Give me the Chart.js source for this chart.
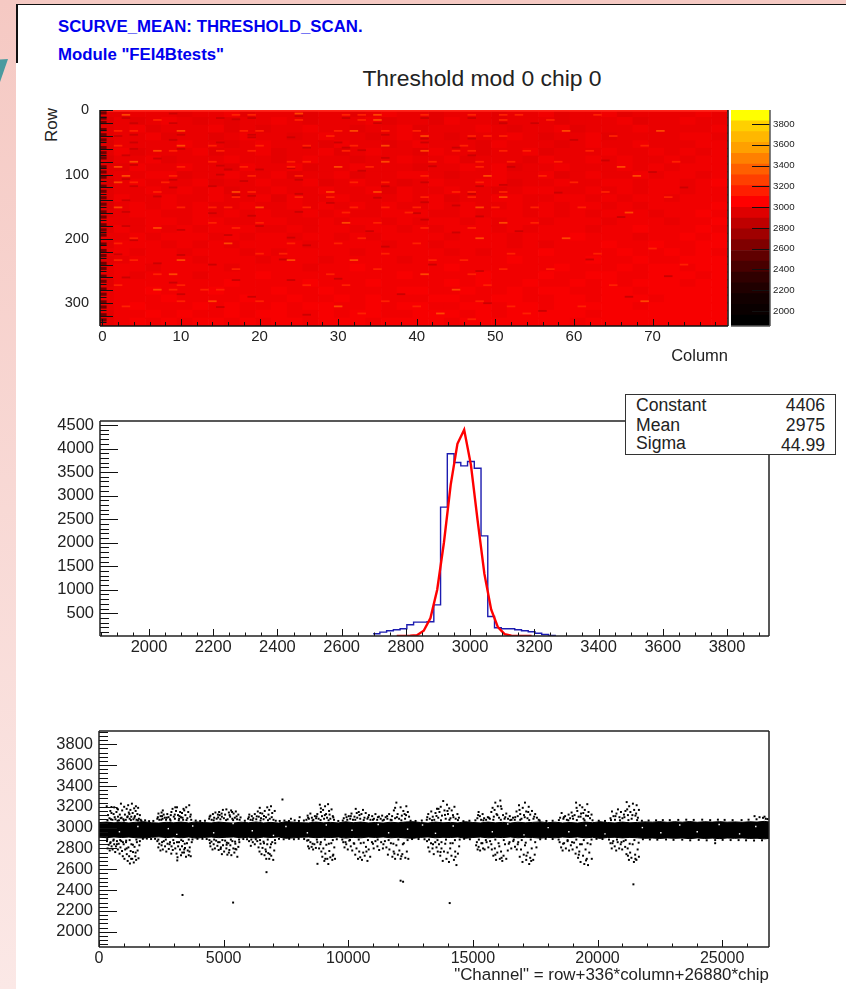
<!DOCTYPE html>
<html>
<head>
<meta charset="utf-8">
<title>Threshold mod 0 chip 0</title>
<script src="https://cdn.jsdelivr.net/npm/chart.js@4"></script>
<style>
html, body { margin: 0; padding: 0; width: 846px; height: 989px; overflow: hidden; }
body { position: relative; background: linear-gradient(#f5c9c3, #fbe8e6); font-family: "Liberation Sans", Arial, sans-serif; color: #222; }
#panel { position: absolute; left: 16px; top: 4px; right: 0; bottom: 0; background: #fff; border-top: 1.5px solid #111; }
#panelEdge { position: absolute; left: 16px; top: 4px; width: 1.5px; height: 59px; background: #111; }
#wedge { position: absolute; left: 0; top: 59px; width: 8px; height: 23px; background: #4a9a9f; clip-path: polygon(0 2%, 100% 0, 0 100%); }
.heading { position: absolute; left: 58px; font-weight: bold; color: #0000ee; white-space: nowrap; }
#title { position: absolute; left: 282px; width: 400px; top: 65px; text-align: center; font-size: 22.9px; white-space: nowrap; }
#rowTitle { position: absolute; left: 41px; top: 108px; height: 34px; line-height: 22px; width: 22px; writing-mode: vertical-rl; transform: rotate(180deg); font-size: 17px; text-align: left; }
canvas { position: absolute; }
#stats { position: absolute; left: 625px; top: 394px; width: 209px; height: 59px; background: #fff; border: 1.5px solid #333; font-size: 17.6px; }
#stats div { position: absolute; left: 10px; right: 10px; height: 20px; line-height: 20px; }
#stats span { position: absolute; right: 0; }
</style>
</head>
<body>
<div id="panel"></div>
<div id="panelEdge"></div>
<div id="wedge"></div>
<div class="heading" style="top:17px;font-size:16.8px">SCURVE_MEAN: THRESHOLD_SCAN.</div>
<div class="heading" style="top:45px;font-size:16.8px">Module "FEI4Btests"</div>
<div id="title">Threshold mod 0 chip 0</div>
<div id="rowTitle">Row</div>
<canvas id="heat" width="700" height="275" style="left:30px;top:100px"></canvas>
<canvas id="palette" width="70" height="235" style="left:731px;top:100px"></canvas>
<canvas id="hist" width="735" height="255" style="left:40px;top:405px"></canvas>
<canvas id="scatter" width="735" height="274" style="left:40px;top:715px"></canvas>
<div id="stats">
  <div style="top:0px">Constant<span>4406</span></div>
  <div style="top:20px">Mean<span>2975</span></div>
  <div style="top:38px">Sigma<span style="top:2px">44.99</span></div>
</div>

<script>
// Tick labels
const heatColumnTicks = [0, 10, 20, 30, 40, 50, 60, 70];
const heatRowTicks = [0, 100, 200, 300];
const paletteTicks = [2000, 2200, 2400, 2600, 2800, 3000, 3200, 3400, 3600, 3800];
const histXTicks = [2000, 2200, 2400, 2600, 2800, 3000, 3200, 3400, 3600, 3800];
const histYTicks = [500, 1000, 1500, 2000, 2500, 3000, 3500, 4000, 4500];
const scatterXTicks = [0, 5000, 10000, 15000, 20000, 25000];
const scatterYTicks = [2000, 2200, 2400, 2600, 2800, 3000, 3200, 3400, 3600, 3800];

// Colour palette, 20 contours
const paletteEdges = [1856, 1960, 2064, 2168, 2272, 2376, 2480, 2583, 2687, 2791, 2895, 2999, 3103, 3207, 3311, 3415, 3519, 3623, 3727, 3831, 3935];
const paletteColors = ['#000000', '#0a0000', '#120000', '#200000', '#300000', '#480000', '#600000', '#800000', '#a00000', '#bf0000',
    '#df0000', '#ff0000', '#ff1e00', '#ff3f00', '#ff5f00', '#ff8000', '#ffa000', '#ffb700', '#ffd000', '#ffff00'];

// Threshold map: each row is 12 pixels high, each letter 2 columns wide (shade index)
const heatShades = ['#de0000', '#e40000', '#ea0000', '#f10000', '#f80000'];
const heatBlocks = [
    '1122212231222122123221222122312231222232',
    '0212321212232122231221322122212223122322',
    '1231222312122322122312223212231222322223',
    '1223122123221232212322122232122312222332',
    '0222232212322213221232221322212322322233',
    '1312223122312231232213221223122232232323',
    '0223122232212322122322312221322323223233',
    '1132232213223122322212232312232223232333',
    '1223312232231223122332122322312322323323',
    '0232223122322312322123223312232233233234',
    '1223232312232232231322322123322323233233',
    '1322322322313223222323122332233232332333',
    '0232323223223232323223232232323323233334',
    '1233223232322323223332232332323233323343',
    '2223323322332232332323323233233323332334',
    '1323232333223233233232333232333233433343',
    '2232333232332332323333233323334333233434',
    '1333232323333233332332333323233343343344',
    '2323323332323333233333232333433334334343',
    '1233332333233323333233333343333433433444',
    '2332333323333233433333433333343334344344',
    '2323332333433333333433334333433443344434',
    '1333333343333433343333434334334343444344',
    '2334333433343343333443343343443344344444',
    '2333433334334334343334433443344344434444',
    '2343334343343443343443344344344444344444',
    '1334343343443343443344434344444344444444',
    '2343434434344344434444344444443444444444'
];

// Single cells that stand out from the map: [column, row]
const hotCells = [
    [3,7],[7,15],[17,7],[19,7],[25,5],[25,15],[2,32],[4,32],[10,32],[18,32],[20,32],[2,55],[10,55],[14,55],[20,55],[26,55],
    [7,63],[9,63],[15,63],[19,63],[4,80],[14,80],[24,80],[26,80],[2,88],[10,88],[18,88],[24,88],[3,102],[9,102],[25,102],[19,102],
    [2,112],[4,112],[8,112],[7,127],[17,127],[19,127],[25,135],[17,135],[2,151],[10,151],[14,151],[16,151],[20,151],[26,151],
    [31,7],[33,7],[35,7],[41,7],[47,7],[51,7],[35,15],[33,15],[51,15],[30,32],[32,32],[36,32],[40,32],[29,40],[41,40],[47,40],[51,40],[49,40],
    [36,55],[32,55],[46,55],[31,63],[41,63],[45,63],[47,63],[51,63],[36,80],[42,80],[48,80],[52,80],[30,88],[34,88],[48,88],[41,102],[49,102],
    [32,112],[48,112],[36,112],[29,127],[45,127],[47,127],[51,127],[35,127],[29,135],[41,135],[47,135],[51,135],[32,151],[36,151],[40,151],[48,151],[50,151],[39,159],[31,159],
    [7,183],[17,183],[2,207],[4,199],[16,207],[24,207],[14,175],[20,175],[10,233],[2,233],[4,233],[20,223],[24,233],[23,223],[17,247],[7,255],[9,255],
    [2,272],[10,272],[26,272],[7,279],[9,279],[13,279],[15,279],[14,297],[20,297],[10,297],[3,305],
    [31,175],[35,175],[41,183],[47,183],[51,175],[33,199],[30,207],[40,207],[48,199],[36,223],[42,233],[46,233],[32,233],[52,223],[29,255],[35,247],[41,255],[47,255],[51,247],
    [31,272],[45,279],[49,272],[36,297],[40,305],[30,305],[48,297],[52,305],[33,316],[43,316],[47,325],
    [53,7],[57,15],[59,32],[63,7],[65,40],[69,55],[71,32],[54,63],[58,80],[62,63],[66,88],[56,102],[60,112],[64,127],[68,102],[72,135],[55,151],[61,151],[67,159],[73,80],
    [74,240],[55,175],[59,199],[63,223],[57,247],[65,272],[69,297],[61,305],[54,316],[70,215]
];
const darkCells = [
    [3,12],[4,20],[9,5],[15,12],[19,12],[25,9],[17,14],[9,20],[4,38],[2,40],[10,38],[19,38],[4,50],[9,46],[15,50],[19,42],[24,42],[26,58],[4,60],[10,60],
    [3,70],[7,75],[4,85],[15,86],[16,92],[20,92],[24,90],[3,107],[9,108],[15,100],[18,110],[25,108],[4,118],[9,120],[14,118],[17,132],[19,133],[25,130],[3,140],[7,134],
    [3,158],[14,160],[19,164],[25,158],[31,12],[35,20],[41,12],[47,12],[51,20],[36,38],[41,44],[47,44],[30,50],[41,50],[31,58],[33,62],[45,58],[47,70],[36,74],[42,87],
    [33,94],[52,88],[41,112],[36,118],[48,118],[51,116],[29,144],[35,136],[41,143],[47,130],[45,148],[40,160],[48,165],[41,170],[3,180],[10,186],[16,194],[20,180],[4,202],[24,198],
    [2,224],[10,225],[14,240],[7,238],[23,232],[26,210],[3,260],[9,268],[17,264],[24,264],[10,286],[19,290],[15,306],[26,318],[34,188],[45,190],[36,212],[42,240],[48,250],[30,262],
    [38,286],[49,300],[55,20],[60,46],[64,78],[70,96],[58,128],[66,166],[53,188],[62,232],[72,258],[67,290],[74,120],[56,312]
];
const edgeCells = [4, 12, 19, 30, 38, 46, 58, 66, 74, 88, 96, 104, 118, 126, 136, 146, 158, 166, 178, 186, 194, 208, 218, 226, 238, 246, 258, 266, 278, 286, 298, 306, 318, 326];

// Threshold distribution: bin low edges and entries, then the gaussian fit at bin centres
const histEdges = [2698, 2719, 2740, 2761, 2782, 2803, 2824, 2845, 2866, 2887, 2908, 2929, 2950, 2971, 2992, 3013, 3034, 3055, 3076, 3097, 3118, 3139, 3160, 3181, 3202, 3223, 3244, 3265];
const histCounts = [65, 100, 128, 150, 171, 256, 313, 313, 320, 680, 2755, 3888, 3702, 3632, 3725, 3580, 2145, 433, 192, 171, 171, 150, 128, 107, 78, 50, 30, 18];
const fitCenters = [2771.5, 2792.5, 2813.5, 2834.5, 2855.5, 2876.5, 2897.5, 2918.5, 2939.5, 2960.5, 2981.5, 3002.5, 3023.5, 3044.5, 3065.5, 3086.5, 3107.5, 3128.5, 3149.5, 3170.5, 3191.5];
const fitValues = [19, 20, 22, 34, 130, 401, 1000, 2004, 3228, 4100, 4400, 3654, 2465, 1337, 584, 205, 58, 24, 20, 20, 19];

// Threshold per channel: edges of the solid band
const bandChannels = [0, 300, 600, 900, 1200, 1500, 1800, 2100, 2400, 2700, 3000, 3300, 3600, 3900, 4200, 4500, 4800, 5100, 5400, 5700, 6000, 6300, 6600, 6900, 7200, 7500, 7800, 8100, 8400, 8700,
    9000, 9300, 9600, 9900, 10200, 10500, 10800, 11100, 11400, 11700, 12000, 12300, 12600, 12900, 13200, 13500, 13800, 14100, 14400, 14700, 15000, 15300, 15600, 15900, 16200, 16500, 16800, 17100, 17400, 17700,
    18000, 18300, 18600, 18900, 19200, 19500, 19800, 20100, 20400, 20700, 21000, 21300, 21600, 21900, 22200, 22500, 22800, 23100, 23400, 23700, 24000, 24300, 24600, 24900, 25200, 25500, 25800, 26100, 26400, 26700, 26880];
const bandTop = [3048, 3053, 3046, 3051, 3045, 3052, 3056, 3047, 3044, 3051, 3046, 3053, 3045, 3055, 3048, 3045, 3053, 3047, 3044, 3052, 3046, 3054, 3045, 3050, 3044, 3056, 3052, 3047, 3045, 3053,
    3046, 3050, 3045, 3056, 3047, 3053, 3045, 3049, 3044, 3052, 3046, 3054, 3056, 3049, 3044, 3053, 3046, 3050, 3045, 3056, 3049, 3045, 3053, 3046, 3050, 3044, 3052, 3046, 3050, 3055,
    3047, 3052, 3045, 3049, 3044, 3053, 3047, 3056, 3049, 3045, 3053, 3046, 3050, 3055, 3052, 3057, 3051, 3056, 3052, 3058, 3051, 3056, 3053, 3057, 3052, 3055, 3051, 3056, 3053, 3060, 3054];
const bandBottom = [2908, 2903, 2910, 2905, 2909, 2902, 2900, 2907, 2911, 2904, 2909, 2902, 2910, 2899, 2906, 2909, 2903, 2907, 2910, 2902, 2907, 2900, 2909, 2905, 2910, 2898, 2902, 2907, 2909, 2903,
    2907, 2905, 2909, 2899, 2906, 2902, 2909, 2905, 2910, 2902, 2907, 2901, 2898, 2906, 2910, 2902, 2907, 2905, 2909, 2898, 2905, 2909, 2902, 2907, 2904, 2910, 2902, 2907, 2905, 2899,
    2906, 2902, 2909, 2905, 2910, 2902, 2907, 2897, 2905, 2907, 2901, 2906, 2902, 2897, 2900, 2896, 2901, 2897, 2900, 2894, 2901, 2896, 2899, 2894, 2900, 2897, 2901, 2896, 2898, 2892, 2896];

// Pixels outside the band: [channel, threshold]
const scatterOutliers = [
    // 300-1700
    [310,3205],[360,3120],[420,3090],[455,3160],[500,3198],[540,3075],[585,3130],[610,3195],[660,3080],[700,3150],[725,3185],[760,3105],[800,3070],[835,3125],[880,3230],[905,3095],[930,3165],[975,3080],[1010,3200],[1040,3125],
    [1075,3075],[1110,3180],[1135,3100],[1170,3215],[1195,3145],[1230,3085],[1260,3170],[1295,3105],[1320,3230],[1350,3140],[1380,3080],[1410,3185],[1440,3110],[1470,3160],[1505,3075],[1540,3130],[1570,3190],[1600,3085],[1640,3120],[1670,3075],
    [320,2870],[345,2800],[390,2835],[430,2780],[465,2860],[505,2820],[545,2790],[575,2875],[610,2840],[650,2765],[680,2820],[720,2870],[755,2790],[790,2845],[825,2750],[860,2810],[895,2870],[925,2775],[955,2725],[990,2840],
    [1020,2700],[1050,2790],[1085,2860],[1115,2745],[1150,2680],[1180,2810],[1210,2725],[1240,2655],[1270,2775],[1300,2840],[1335,2700],[1365,2765],[1395,2665],[1425,2815],[1455,2725],[1490,2690],[1520,2860],[1550,2780],[1585,2705],[1620,2830],
    // 2300-3750
    [2340,3085],[2385,3135],[2420,3075],[2470,3110],[2510,3145],[2550,3085],[2595,3125],[2640,3095],[2690,3075],[2740,3130],[2790,3100],[2850,3080],[2905,3150],[2950,3180],[3000,3105],[3045,3085],[3090,3160],[3130,3195],[3170,3120],[3215,3085],
    [3255,3150],[3290,3100],[3330,3140],[3375,3075],[3420,3165],[3465,3120],[3500,3195],[3545,3090],[3580,3150],[3620,3215],[3660,3105],[3700,3075],[2500,3075],[2880,3120],[3230,3110],
    [2340,2870],[2380,2810],[2420,2845],[2465,2780],[2510,2830],[2560,2790],[2600,2870],[2650,2820],[2700,2770],[2750,2845],[2800,2795],[2850,2860],[2910,2820],[2960,2785],[3010,2850],[3060,2800],[3110,2750],[3140,2685],[3175,2820],[3210,2860],
    [3250,2790],[3290,2735],[3330,2820],[3370,2870],[3410,2760],[3450,2805],[3490,2720],[3530,2850],[3560,2780],[3600,2735],[3640,2810],[3680,2725],[3720,2860],[3150,2715],[3420,2790],
    // 4400-5700
    [4420,3085],[4470,3115],[4520,3075],[4570,3130],[4620,3095],[4670,3145],[4720,3085],[4770,3125],[4820,3150],[4870,3080],[4920,3135],[4970,3170],[5010,3090],[5060,3125],[5110,3175],[5160,3080],[5210,3145],[5260,3105],[5300,3165],[5350,3085],
    [5400,3135],[5450,3095],[5490,3155],[5540,3080],[5590,3125],[5640,3075],
    [4430,2880],[4470,2820],[4510,2865],[4555,2790],[4600,2840],[4650,2800],[4700,2875],[4750,2825],[4800,2785],[4840,2860],[4890,2810],[4930,2745],[4975,2830],[5020,2770],[5060,2875],[5110,2800],[5150,2740],[5190,2850],[5230,2785],[5270,2830],
    [5310,2735],[5350,2870],[5390,2800],[5430,2760],[5470,2845],[5510,2790],[5550,2720],[5590,2815],[5630,2860],[5120,2835],[4880,2795],
    // 5950-7100
    [5980,3085],[6030,3125],[6080,3075],[6130,3110],[6190,3090],[6250,3130],[6310,3080],[6370,3155],[6410,3105],[6450,3190],[6500,3090],[6550,3135],[6600,3080],[6650,3160],[6700,3100],[6750,3195],[6800,3125],[6850,3085],[6900,3205],[6950,3140],[7000,3075],[7050,3160],
    [6020,2870],[6090,2825],[6170,2860],[6250,2840],[6350,2870],[6400,2810],[6440,2770],[6480,2845],[6520,2745],[6560,2805],[6600,2865],[6640,2735],[6680,2790],[6710,2700],[6750,2840],[6790,2755],[6830,2700],[6870,2810],[6910,2730],[6950,2860],[6990,2690],[7030,2780],[7070,2850],
    // 8300-9900
    [8320,3075],[8370,3115],[8420,3085],[8480,3135],[8540,3095],[8600,3075],[8660,3110],[8710,3090],[8760,3130],[8810,3085],[8860,3220],[8900,3150],[8945,3110],[8990,3170],[9030,3085],[9070,3205],[9110,3130],[9150,3095],[9190,3225],[9230,3160],[9280,3085],[9330,3175],[9380,3110],[9430,3075],
    [8350,2875],[8390,2820],[8430,2800],[8480,2860],[8530,2815],[8590,2790],[8640,2840],[8700,2805],[8760,2860],[8830,2800],[8880,2840],[8920,2770],[8960,2720],[9000,2800],[9040,2680],[9080,2750],[9120,2835],[9160,2700],[9200,2650],[9240,2775],[9280,2715],[9320,2850],[9360,2690],[9400,2740],[9440,2810],[9470,2700],
    // 9800-12500
    [9820,3090],[9890,3125],[9960,3075],[10020,3110],[10080,3085],[10130,3135],[10190,3075],[10250,3105],[10300,3180],[10360,3095],[10420,3150],[10480,3085],[10530,3130],[10590,3170],[10650,3095],[10700,3140],[10770,3085],[10830,3120],[10890,3075],[10960,3110],
    [11030,3085],[11090,3130],[11160,3075],[11230,3105],[11300,3085],[11360,3115],[11430,3075],[11500,3100],[11570,3085],[11640,3130],[11700,3075],[11760,3110],[11830,3165],[11880,3090],[11930,3240],[11980,3130],[12040,3085],[12100,3195],[12150,3115],[12210,3160],[12280,3085],[12330,3205],[12390,3150],[12440,3105],
    [9800,2860],[9850,2810],[9920,2840],[9980,2790],[10040,2875],[10100,2820],[10160,2780],[10220,2850],[10280,2740],[10330,2800],[10390,2700],[10440,2770],[10500,2850],[10550,2690],[10600,2760],[10660,2730],[10710,2815],[10770,2680],[10820,2790],[10880,2720],
    [10950,2860],[11020,2800],[11090,2870],[11170,2820],[11240,2785],[11320,2860],[11390,2800],[11470,2870],[11530,2810],[11590,2740],[11650,2790],[11710,2850],[11770,2720],[11820,2770],[11880,2700],[11930,2830],[11990,2740],[12050,2780],[12100,2700],[12170,2745],[12230,2850],[12290,2710],[12350,2770],[12410,2700],
    // 13100-14500
    [13150,3075],[13210,3130],[13270,3085],[13330,3155],[13390,3105],[13450,3075],[13500,3140],[13560,3180],[13610,3095],[13660,3150],[13710,3200],[13760,3115],[13810,3255],[13860,3165],[13910,3085],[13960,3220],[14000,3130],[14050,3185],[14100,3090],[14150,3165],[14200,3120],[14260,3200],[14310,3085],[14380,3130],[14440,3095],
    [13160,2870],[13210,2810],[13260,2770],[13320,2850],[13380,2800],[13430,2745],[13490,2860],[13540,2810],[13590,2770],[13640,2840],[13690,2730],[13740,2800],[13790,2680],[13840,2770],[13890,2845],[13940,2700],[13990,2760],[14040,2670],[14090,2800],[14140,2730],[14190,2850],[14240,2690],[14290,2770],[14340,2640],[14400,2750],[14450,2820],
    // 15100-17800
    [15180,3090],[15230,3150],[15280,3110],[15330,3075],[15390,3130],[15450,3090],[15530,3075],[15600,3100],[15680,3085],[15740,3150],[15790,3190],[15840,3105],[15900,3240],[15950,3130],[16000,3205],[16050,3095],[16100,3260],[16150,3180],[16210,3120],[16270,3085],[16340,3135],[16410,3085],[16480,3110],[16550,3075],[16610,3095],
    [16680,3075],[16750,3155],[16800,3110],[16850,3215],[16900,3130],[16950,3085],[17000,3190],[17050,3120],[17090,3240],[17140,3155],[17190,3090],[17240,3200],[17300,3125],[17370,3160],[17430,3085],[17500,3130],[17570,3095],[17640,3075],
    [15160,2860],[15190,2790],[15230,2815],[15290,2780],[15340,2850],[15410,2800],[15470,2790],[15550,2860],[15620,2810],[15690,2870],[15760,2790],[15820,2730],[15880,2800],[15930,2690],[15980,2760],[16030,2850],[16080,2700],[16130,2770],[16180,2680],[16230,2730],
    [16290,2840],[16340,2700],[16400,2780],[16470,2860],[16540,2800],[16620,2870],[16690,2815],[16760,2790],[16820,2860],[16880,2720],[16930,2790],[16990,2670],[17040,2740],[17090,2830],[17140,2690],[17200,2760],[17260,2650],[17300,2710],[17360,2800],[17420,2690],[17480,2740],[17550,2810],
    // 18400-19800
    [18500,3095],[18560,3140],[18630,3085],[18700,3110],[18770,3075],[18840,3125],[18900,3090],[18960,3145],[19020,3085],[19080,3120],[19140,3240],[19190,3160],[19240,3105],[19290,3215],[19340,3135],[19390,3195],[19440,3085],[19490,3170],[19540,3115],[19590,3225],[19640,3150],[19700,3090],[19760,3125],
    [18480,2860],[18540,2810],[18600,2780],[18660,2850],[18730,2800],[18800,2870],[18860,2780],[18930,2830],[19000,2790],[19060,2855],[19120,2750],[19170,2810],[19220,2710],[19270,2770],[19320,2670],[19370,2840],[19420,2730],[19470,2650],[19520,2790],[19570,2700],[19620,2640],[19670,2760],[19720,2840],[19770,2700],
    // 20500-21700
    [20520,3090],[20580,3155],[20640,3110],[20700,3075],[20760,3135],[20820,3175],[20880,3100],[20940,3150],[21000,3090],[21060,3125],[21120,3160],[21170,3245],[21220,3120],[21270,3205],[21320,3150],[21370,3085],[21420,3230],[21470,3170],[21520,3115],[21570,3215],[21620,3095],[21660,3170],
    [20520,2850],[20570,2800],[20630,2870],[20690,2820],[20750,2780],[20810,2860],[20870,2800],[20930,2840],[20990,2790],[21050,2870],[21110,2815],[21160,2745],[21210,2800],[21260,2690],[21310,2760],[21360,2710],[21410,2840],[21460,2670],[21510,2740],[21560,2690],[21610,2790],[21660,2720],
    // isolated
    [3350,2353],[5380,2280],[6720,2572],[7360,3270],[8765,2652],[12100,2490],[14070,2275],[21440,2455],[12200,2480],[8050,3100],[7700,3085],[24720,2850],[26300,3110],[26500,3100],[26700,3105],[26750,3085]
];
// Denser pixels that hug the band edge, inside the clusters and along the whole range
const edgePixels = [
    [340,3070],[480,3080],[630,3100],[745,3066],[870,3090],[1000,3068],[1150,3108],[1280,3072],[1420,3095],[1560,3070],[1700,3066],[1850,3070],[2010,3062],[2180,3064],[2360,3100],[2530,3110],[2720,3095],[2870,3068],[3040,3125],[3200,3070],[3350,3095],[3510,3072],[3680,3125],[3880,3068],[4060,3064],[4250,3066],
    [4440,3105],[4600,3070],[4780,3098],[4930,3105],[5100,3072],[5240,3120],[5380,3072],[5520,3108],[5680,3098],[5850,3066],[6010,3100],[6160,3072],[6330,3108],[6480,3068],[6620,3112],[6780,3070],[6930,3100],[7090,3066],[7250,3064],[7440,3068],[7620,3064],[7850,3070],[8020,3064],[8220,3068],
    [8390,3095],[8570,3068],[8730,3108],[8890,3072],[9060,3120],[9210,3070],[9400,3098],[9600,3064],[9780,3068],[9930,3100],[10100,3110],[10280,3075],[10450,3120],[10620,3072],[10800,3100],[10990,3075],[11190,3100],[11380,3068],[11560,3110],[11740,3072],[11950,3100],[12130,3070],[12320,3120],[12500,3066],[12700,3064],[12950,3068],
    [13170,3100],[13360,3070],[13540,3112],[13720,3070],[13880,3122],[14060,3075],[14220,3100],[14400,3072],[14620,3062],[14860,3066],[15100,3070],[15210,3120],[15420,3070],[15640,3095],[15820,3075],[15980,3120],[16120,3075],[16300,3100],[16500,3072],[16700,3100],[16900,3075],[17080,3100],[17260,3072],[17460,3105],[17680,3068],
    [17950,3064],[18200,3066],[18450,3072],[18650,3100],[18830,3070],[19000,3110],[19170,3072],[19320,3105],[19480,3070],[19620,3112],[19800,3070],[20050,3066],[20300,3064],[20540,3072],[20720,3110],[20900,3070],[21080,3100],[21240,3072],[21400,3120],[21590,3072],[21780,3066],[22050,3068],[22350,3070],[22620,3072],[22900,3072],[23240,3074],[23560,3076],[23860,3074],[24200,3076],[24520,3072],[24830,3076],[25100,3074],[25420,3072],[25780,3072],[26060,3076],[26380,3080],[26640,3094],[26820,3082],
    [330,2890],[450,2850],[590,2885],[720,2840],[850,2880],[960,2860],[1090,2875],[1230,2880],[1360,2835],[1500,2885],[1640,2870],[1760,2892],[1920,2894],[2090,2890],[2250,2892],[2380,2885],[2530,2860],[2680,2885],[2830,2840],[2980,2880],[3130,2860],[3300,2880],[3440,2845],[3600,2885],[3750,2886],[3950,2892],[4150,2892],[4320,2890],
    [4450,2850],[4620,2885],[4780,2860],[4950,2880],[5130,2855],[5290,2885],[5460,2865],[5620,2885],[5790,2890],[5940,2888],[6110,2885],[6290,2888],[6460,2880],[6620,2850],[6770,2885],[6900,2840],[7060,2880],[7220,2892],[7410,2888],[7630,2892],[7820,2888],[8010,2892],[8230,2890],
    [8400,2880],[8570,2845],[8740,2885],[8900,2860],[9060,2885],[9220,2845],[9380,2880],[9540,2888],[9760,2885],[9890,2860],[10070,2880],[10240,2845],[10420,2885],[10620,2855],[10790,2880],[10990,2845],[11180,2885],[11410,2840],[11620,2880],[11810,2845],[12010,2885],[12190,2840],[12380,2880],[12560,2890],
    [12820,2890],[13060,2888],[13240,2885],[13400,2840],[13580,2880],[13740,2860],[13920,2885],[14100,2850],[14280,2880],[14470,2885],[14650,2892],[14880,2888],[15130,2830],[15240,2885],[15380,2850],[15520,2880],[15740,2840],[15900,2885],[16060,2820],[16240,2880],[16440,2845],[16640,2885],[16800,2840],[16960,2880],[17120,2855],[17320,2885],[17500,2860],[17700,2888],
    [17920,2892],[18200,2890],[18440,2885],[18620,2845],[18800,2880],[18980,2860],[19150,2885],[19300,2840],[19450,2880],[19600,2850],[19760,2885],[19960,2892],[20200,2890],[20460,2885],[20600,2850],[20780,2885],[20960,2860],[21130,2880],[21290,2845],[21480,2880],[21650,2855],[21820,2888],[22100,2886],[22400,2884],[22750,2886],[23050,2882],[23400,2884],[23720,2878],[24060,2882],[24380,2878],[24720,2880],[25020,2882],[25340,2880],[25660,2880],[25960,2878],[26280,2876],[26600,2878],
    [500,3140],[760,3175],[1220,3130],[1480,3205],[2560,3165],[3060,3195],[3390,3180],[4840,3120],[5340,3150],[6470,3140],[6830,3170],[8900,3185],[9250,3125],[10340,3140],[11880,3190],[12260,3130],[13620,3180],[13980,3160],[15870,3170],[16120,3205],[16870,3170],[17220,3150],[19160,3190],[19430,3140],[21190,3175],[21550,3135],
    [1110,2800],[1290,2700],[1470,2760],[2900,2750],[3340,2760],[3630,2770],[5210,2760],[5470,2795],[6700,2770],[6850,2745],[9080,2700],[9380,2730],[10480,2715],[10730,2770],[11850,2750],[12130,2725],[13700,2765],[14300,2720],[15900,2740],[16150,2710],[17150,2730],[17340,2680],[19250,2740],[19540,2685],[21220,2730],[21520,2700]
];
const bandHoles = [
    [820,2960],[1560,3010],[2780,2990],[3120,2935],[3760,3015],[4600,2950],[5380,3040],[6150,2970],[7000,2925],[7500,3010],[8360,2950],[9120,3025],[10150,2975],[11200,3030],[11620,2950],
    [12380,2985],[12980,3025],[13500,2945],[14210,3015],[15780,2960],[16400,3035],[17050,2930],[18020,3000],[18850,2960],[19540,3020],[20300,2940],[21800,3000],[22540,2950],[23300,3025],[24000,2960],[24880,3030],[25700,2940],[26350,3010]
];

// Chart.js puts ticks outside the frame, ROOT has them inside: drawn here through the scales
const rootFrame = {
    id: 'rootFrame',
    afterDatasetsDraw(chart, args, opts) {
        const { ctx, chartArea: a } = chart;
        const sx = chart.scales.x, sy = chart.scales.y;
        ctx.save();
        ctx.strokeStyle = '#111';
        ctx.lineWidth = 1;
        ctx.beginPath();
        (opts.xTicks || []).forEach(t => {
            const p = Math.round(sx.getPixelForValue(t[0])) + 0.5;
            ctx.moveTo(p, a.bottom);
            ctx.lineTo(p, a.bottom - t[1]);
        });
        (opts.yTicks || []).forEach(t => {
            const p = Math.round(sy.getPixelForValue(t[0])) + 0.5;
            ctx.moveTo(opts.rightSide ? a.right : a.left, p);
            ctx.lineTo(opts.rightSide ? a.right - t[1] : a.left + t[1], p);
        });
        ctx.stroke();
        ctx.lineWidth = 1.5;
        ctx.strokeStyle = opts.frameColor || '#222';
        const sides = opts.sides || 'tlbr';
        ctx.beginPath();
        if (sides.includes('t')) { ctx.moveTo(a.left, a.top); ctx.lineTo(a.right, a.top); }
        if (sides.includes('l')) { ctx.moveTo(a.left, a.top); ctx.lineTo(a.left, a.bottom); }
        if (sides.includes('b')) { ctx.moveTo(a.left, a.bottom); ctx.lineTo(a.right, a.bottom); }
        if (sides.includes('r')) { ctx.moveTo(a.right, a.top); ctx.lineTo(a.right, a.bottom); }
        ctx.stroke();
        ctx.restore();
    }
};

function tickMarks(from, to, step, major, longLen, shortLen) {
    const marks = [];
    for (let v = from; v <= to; v += step) {
        marks.push([v, v % major === 0 ? longLen : shortLen]);
    }
    return marks;
}

function fixedTicks(list) {
    return scale => { scale.ticks = list.map(v => ({ value: v })); };
}

function axis(min, max, labels, fontSize, padding, size, extra) {
    const horizontal = extra && extra.horizontal;
    return Object.assign({
        type: 'linear',
        min: min,
        max: max,
        offset: false,
        grid: { display: false, drawTicks: false },
        border: { display: false },
        afterBuildTicks: fixedTicks(labels),
        afterFit: s => {
            if (horizontal) { s.height = size; } else { s.width = size; }
            s.paddingTop = s.paddingBottom = s.paddingLeft = s.paddingRight = 0;
        },
        ticks: {
            autoSkip: false,
            maxRotation: 0,
            padding: padding,
            color: '#222',
            font: { family: '"Liberation Sans"', size: fontSize },
            callback: v => String(v)
        }
    }, extra);
}

const common = {
    responsive: false,
    animation: false,
    events: [],
    plugins: { legend: { display: false }, tooltip: { enabled: false } }
};

// Threshold map
const heatLayers = [
    { cells: hotCells.filter((c, i) => i % 4 === 0), color: '#ff4600', size: 1.1 },
    { cells: hotCells.filter((c, i) => i % 4 !== 0), color: '#ff2000', size: 1.1 },
    { cells: darkCells, color: '#cc0000', size: 1.2 },
    { cells: edgeCells.map(r => [0, r]), color: '#700000', size: 2.5 }
];
const heatDatasets = heatLayers.map(layer => ({
    data: layer.cells.map(c => ({ y: c[1], x: [c[0] - 0.5, c[0] + 0.5] })),
    backgroundColor: layer.color,
    barThickness: layer.size,
    grouped: false
}));
heatDatasets.push({
    data: [{ y: 0, x: [-0.5, 80] }],
    backgroundColor: '#ff2418',
    barThickness: 2,
    grouped: false
});
heatDatasets.push({
    data: heatBlocks.flatMap((line, r) => line.split('').map((c, i) => ({ y: r * 12 + 5.5, x: [i * 2 - 0.5, i * 2 + 1.5] }))),
    backgroundColor: heatBlocks.flatMap(line => line.split('').map(c => heatShades[c])),
    barThickness: 8.4,
    grouped: false
});

new Chart(document.getElementById('heat'), {
    type: 'bar',
    data: { datasets: heatDatasets },
    plugins: [rootFrame],
    options: Object.assign({}, common, {
        indexAxis: 'y',
        layout: { padding: { top: 10, right: 2 } },
        scales: {
            x: axis(-0.3, 79.6, heatColumnTicks, 15, 2, 49, {
                horizontal: true,
                title: { display: true, text: 'Column', align: 'end', color: '#222', font: { family: '"Liberation Sans"', size: 16.5 }, padding: { bottom: 9 } }
            }),
            y: axis(-0.5, 335.5, heatRowTicks, 14.5, 11, 70, { reverse: true })
        },
        plugins: Object.assign({}, common.plugins, {
            rootFrame: {
                frameColor: '#111',
                sides: 'lbr',
                xTicks: tickMarks(0, 78, 2, 10, 7, 4),
                yTicks: tickMarks(0, 330, 10, 20, 13, 6.5)
            }
        })
    })
});

// Colour palette
new Chart(document.getElementById('palette'), {
    type: 'bar',
    data: {
        labels: [''],
        datasets: paletteColors.map((c, i) => ({
            data: [[paletteEdges[i], paletteEdges[i + 1]]],
            backgroundColor: c,
            barPercentage: 1,
            categoryPercentage: 1,
            grouped: false
        }))
    },
    plugins: [rootFrame],
    options: Object.assign({}, common, {
        layout: { padding: { top: 10, bottom: 9 } },
        scales: {
            x: { display: false },
            y: axis(1856, 3935, paletteTicks, 9.7, 3, 31, { position: 'right' })
        },
        plugins: Object.assign({}, common.plugins, {
            rootFrame: { rightSide: true, frameColor: '#555', sides: 'br', yTicks: paletteTicks.map(v => [v, 18]) }
        })
    })
});

// Threshold distribution
new Chart(document.getElementById('hist'), {
    type: 'scatter',
    data: {
        datasets: [
            {
                data: fitCenters.map((x, i) => ({ x: x, y: fitValues[i] })),
                showLine: true,
                borderColor: '#ff0000',
                borderWidth: 2.4,
                pointRadius: 0
            },
            {
                data: histEdges.map((x, i) => ({ x: x, y: histCounts[i] })),
                showLine: true,
                stepped: true,
                borderColor: '#1c1cb0',
                borderWidth: 1.4,
                pointRadius: 0
            }
        ]
    },
    plugins: [rootFrame],
    options: Object.assign({}, common, {
        layout: { padding: { top: 16, right: 6 } },
        scales: {
            x: axis(1847.4, 3930.8, histXTicks, 16.5, 2, 24, { horizontal: true }),
            y: axis(18, 4585, histYTicks, 16.5, 6, 60)
        },
        plugins: Object.assign({}, common.plugins, {
            rootFrame: {
                xTicks: tickMarks(1850, 3900, 50, 200, 7, 3.5),
                yTicks: tickMarks(100, 4500, 100, 500, 18, 9)
            }
        })
    })
});

// Threshold per channel
new Chart(document.getElementById('scatter'), {
    type: 'scatter',
    data: {
        datasets: [
            {
                data: bandHoles.map(p => ({ x: p[0], y: p[1] })),
                pointStyle: 'rect',
                pointRadius: 1,
                backgroundColor: '#ffffff',
                borderWidth: 0
            },
            {
                data: scatterOutliers.concat(edgePixels).map(p => ({ x: p[0], y: p[1] })),
                pointStyle: 'rect',
                pointRadius: 1.4,
                backgroundColor: '#000000',
                borderWidth: 0
            },
            {
                data: bandChannels.map((x, i) => ({ x: x, y: bandTop[i] })),
                showLine: true,
                borderColor: '#000000',
                borderWidth: 1,
                backgroundColor: '#000000',
                pointRadius: 0,
                fill: '+1'
            },
            {
                data: bandChannels.map((x, i) => ({ x: x, y: bandBottom[i] })),
                showLine: true,
                borderColor: '#000000',
                borderWidth: 1,
                pointRadius: 0
            }
        ]
    },
    plugins: [rootFrame],
    options: Object.assign({}, common, {
        layout: { padding: { top: 16, right: 6 } },
        scales: {
            x: axis(0, 26880, scatterXTicks, 16, 2, 42, {
                horizontal: true,
                title: {
                    display: true,
                    text: '"Channel" = row+336*column+26880*chip',
                    align: 'end',
                    color: '#222',
                    font: { family: '"Liberation Sans"', size: 16.9 },
                    padding: { bottom: 4 }
                }
            }),
            y: axis(1853, 3928, scatterYTicks, 16.5, 6, 59)
        },
        plugins: Object.assign({}, common.plugins, {
            rootFrame: {
                xTicks: tickMarks(0, 26000, 1000, 5000, 7, 3.5),
                yTicks: tickMarks(1880, 3920, 40, 200, 18, 9)
            }
        })
    })
});
</script>
</body>
</html>
